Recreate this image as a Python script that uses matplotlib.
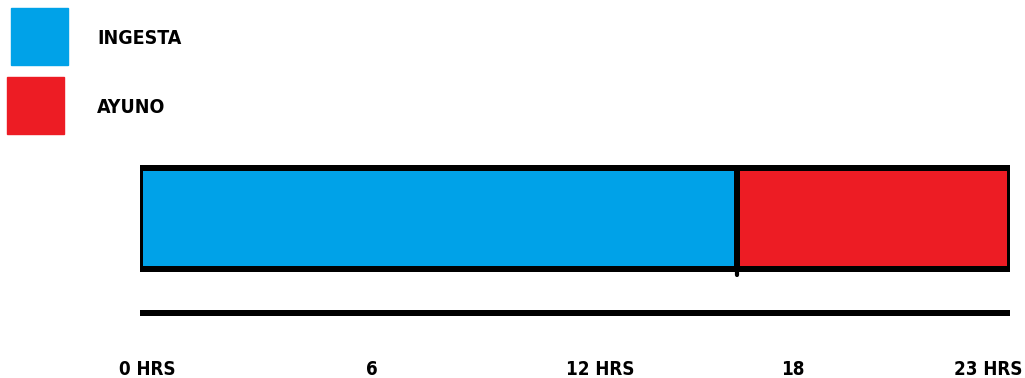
import matplotlib.pyplot as plt
from matplotlib.patches import Rectangle

# datos: horas de ingesta y de ayuno en el dia
categorias = ["INGESTA", "AYUNO"]
horas = [16.47, 7.53]
colores = ["#00A2E8", "#ED1C24"]

tick_pos = [0.2, 6.4, 12.7, 18.0, 23.4]
tick_labels = ["0 HRS", "6", "12 HRS", "18", "23 HRS"]

plt.rcParams['font.family'] = ['DejaVu Sans']
plt.rcParams['font.stretch'] = 'condensed'

W, H = 1025, 378
fig = plt.figure(figsize=(W / 100, H / 100), dpi=100)

# eje principal: x en horas, y en pixeles (de arriba hacia abajo)
ax = fig.add_axes([140 / W, 0, 870 / W, 1])
ax.set_xlim(0, sum(horas))
ax.set_ylim(H, 0)
ax.axis('off')

lw = 6 * 72 / 100  # 6 px
inicio = 0
for h, c in zip(horas, colores):
    ax.barh(218.5, h, left=inicio, height=101, color=c,
            edgecolor='black', linewidth=lw)
    inicio += h
# pequeña marca bajo la division
ax.plot([horas[0], horas[0]], [260, 275], color='black', lw=lw * 0.7,
        solid_capstyle='round')

# linea de tiempo
ax.plot([0, sum(horas) + 0.08], [313, 313], color='black', lw=lw,
        solid_capstyle='round')

for p, t in zip(tick_pos, tick_labels):
    ax.text(p, 375, t, ha='center', va='baseline', fontsize=13.5,
            fontweight='bold', color='black')

# leyenda dibujada a mano
leg_y = [8, 77]
leg_x = [11, 7]
for x0, y0, c, lab in zip(leg_x, leg_y, colores, categorias):
    fig.add_artist(Rectangle((x0 / W, 1 - (y0 + 57) / H), 57 / W, 57 / H,
                             transform=fig.transFigure, color=c))
    fig.text(97 / W, 1 - (y0 + 36) / H, lab, fontsize=14, fontweight='bold',
             va='baseline', ha='left')

fig.savefig('out.png', dpi=100)
